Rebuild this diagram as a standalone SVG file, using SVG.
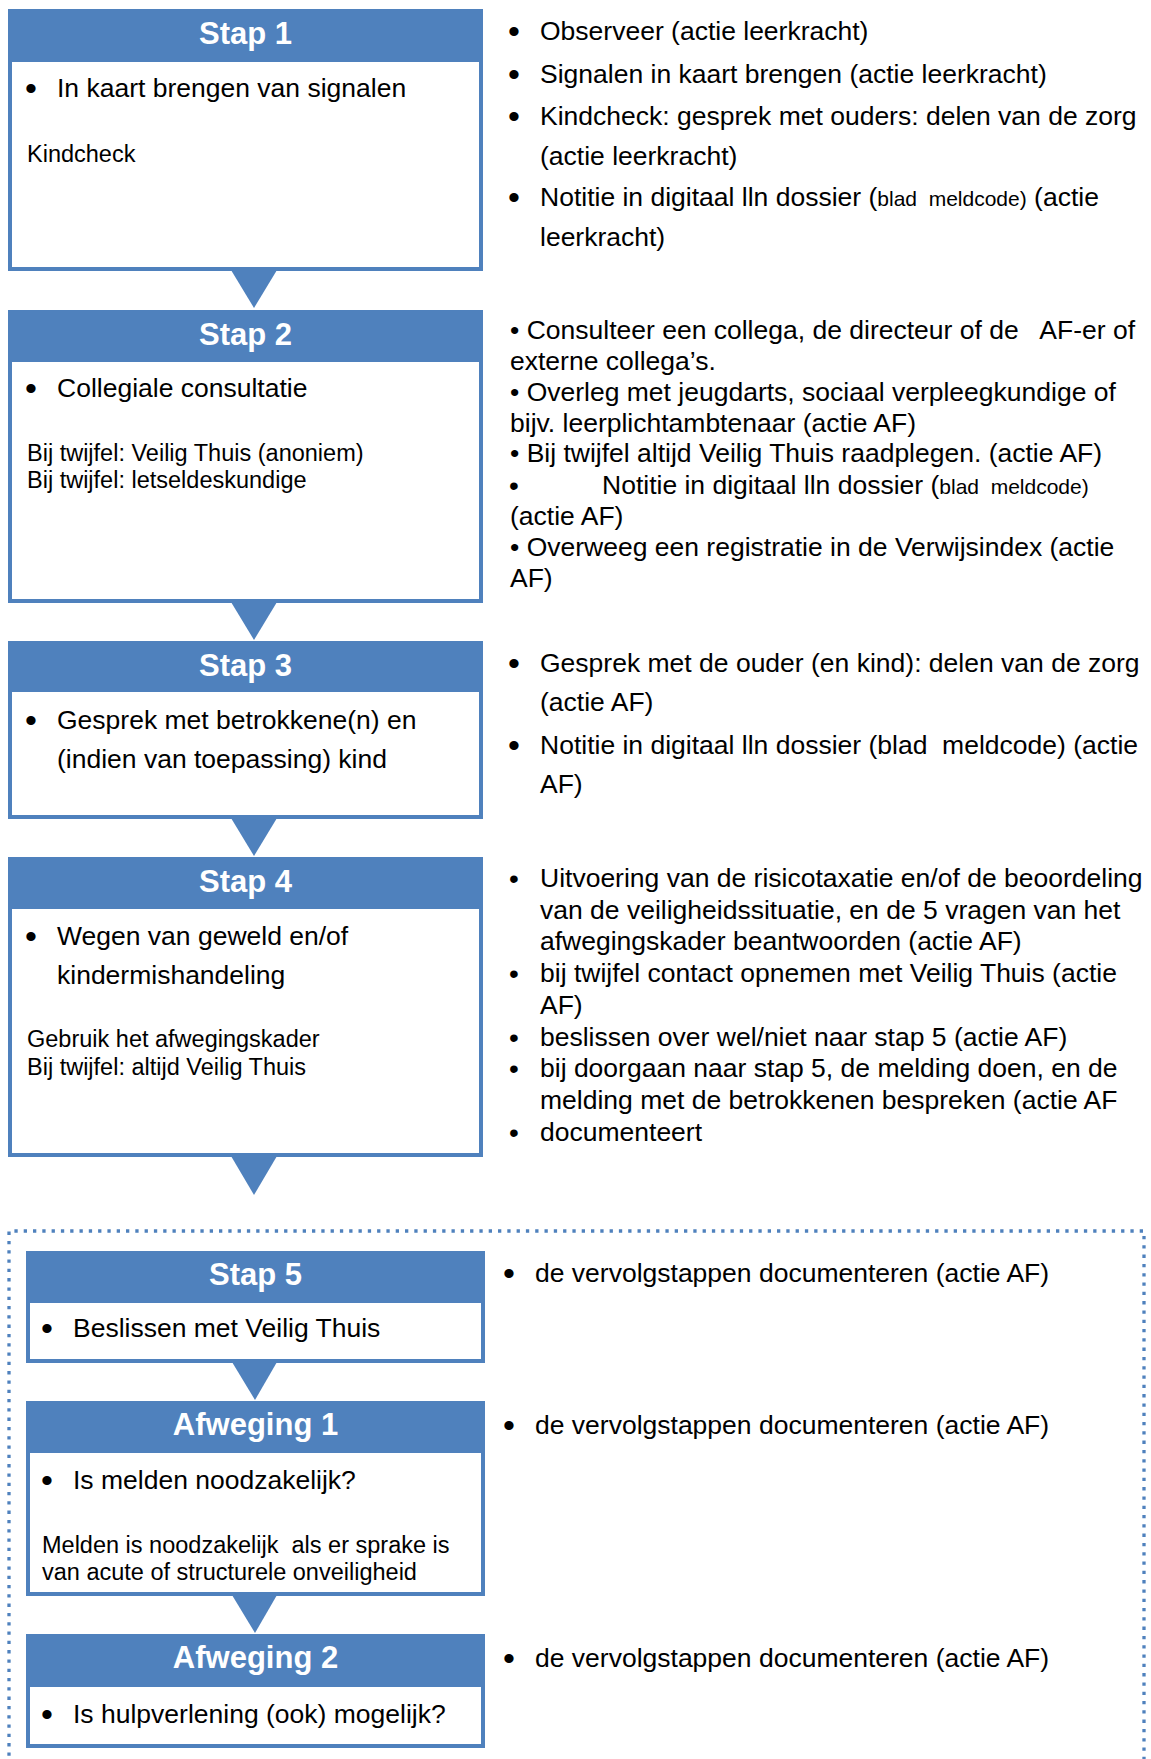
<svg xmlns="http://www.w3.org/2000/svg" width="1151" height="1759" viewBox="0 0 1151 1759">
<style>
.box{fill:#fff;stroke:#4F81BD;stroke-width:4}
.hdr{fill:#4F81BD}
.arr{fill:#4F81BD}
.ht{font-family:'Liberation Sans',Arial,sans-serif;font-weight:bold;font-size:31px;fill:#fff;text-anchor:middle}
.t{font-family:'Liberation Sans',Arial,sans-serif;font-size:26.5px;fill:#000}
.s{font-family:'Liberation Sans',Arial,sans-serif;font-size:23.5px;fill:#000}
.sm{font-size:21px}
.bl{font-family:'Liberation Sans',Arial,sans-serif;font-size:34px;fill:#000}
.bl2{font-family:'Liberation Sans',Arial,sans-serif;font-size:28px;fill:#000}
.dot{fill:none;stroke:#4F81BD;stroke-width:3.3;stroke-dasharray:3.3 6}
</style>
<rect width="1151" height="1759" fill="#fff"/>

<g id="container">
<path class="dot" d="M9,1765 V1231 H1144 V1765"/>
</g>

<g id="connectors">
<polygon class="arr" points="231,270 277,270 254,308"/>
<polygon class="arr" points="231,602 277,602 254,640"/>
<polygon class="arr" points="231,818 277,818 254,856"/>
<polygon class="arr" points="231,1156 277,1156 254,1195"/>
<polygon class="arr" points="232,1362 277,1362 255,1400"/>
<polygon class="arr" points="232,1595 277,1595 255,1633"/>
</g>

<g id="stap1">
<rect class="box" x="10" y="11" width="471" height="258"/>
<rect class="hdr" x="8" y="9" width="475" height="53"/>
<text class="ht" x="245.5" y="44">Stap 1</text>
<text class="bl" x="25" y="100">•</text>
<text class="t" x="57" y="97">In kaart brengen van signalen</text>
<text class="s" x="27" y="162">Kindcheck</text>
</g>

<g id="stap2">
<rect class="box" x="10" y="312" width="471" height="289"/>
<rect class="hdr" x="8" y="310" width="475" height="52"/>
<text class="ht" x="245.5" y="345">Stap 2</text>
<text class="bl" x="25" y="400">•</text>
<text class="t" x="57" y="397">Collegiale consultatie</text>
<text class="s" x="27" y="461">Bij twijfel: Veilig Thuis (anoniem)</text>
<text class="s" x="27" y="488">Bij twijfel: letseldeskundige</text>
</g>

<g id="stap3">
<rect class="box" x="10" y="643" width="471" height="174"/>
<rect class="hdr" x="8" y="641" width="475" height="51"/>
<text class="ht" x="245.5" y="676">Stap 3</text>
<text class="bl" x="25" y="732">•</text>
<text class="t" x="57" y="729">Gesprek met betrokkene(n) en</text>
<text class="t" x="57" y="768">(indien van toepassing) kind</text>
</g>

<g id="stap4">
<rect class="box" x="10" y="859" width="471" height="296"/>
<rect class="hdr" x="8" y="857" width="475" height="52"/>
<text class="ht" x="245.5" y="892">Stap 4</text>
<text class="bl" x="25" y="948">•</text>
<text class="t" x="57" y="945">Wegen van geweld en/of</text>
<text class="t" x="57" y="984">kindermishandeling</text>
<text class="s" x="27" y="1047">Gebruik het afwegingskader</text>
<text class="s" x="27" y="1075">Bij twijfel: altijd Veilig Thuis</text>
</g>

<g id="stap5">
<rect class="box" x="28" y="1253" width="455" height="108"/>
<rect class="hdr" x="26" y="1251" width="459" height="52"/>
<text class="ht" x="255.5" y="1285">Stap 5</text>
<text class="bl" x="41" y="1340">•</text>
<text class="t" x="73" y="1337">Beslissen met Veilig Thuis</text>
</g>

<g id="afweging1">
<rect class="box" x="28" y="1403" width="455" height="191"/>
<rect class="hdr" x="26" y="1401" width="459" height="52"/>
<text class="ht" x="255.5" y="1435">Afweging 1</text>
<text class="bl" x="41" y="1492">•</text>
<text class="t" x="73" y="1489">Is melden noodzakelijk?</text>
<text class="s" x="42" y="1553" xml:space="preserve">Melden is noodzakelijk  als er sprake is</text>
<text class="s" x="42" y="1580">van acute of structurele onveiligheid</text>
</g>

<g id="afweging2">
<rect class="box" x="28" y="1636" width="455" height="110"/>
<rect class="hdr" x="26" y="1634" width="459" height="53"/>
<text class="ht" x="255.5" y="1668">Afweging 2</text>
<text class="bl" x="41" y="1726">•</text>
<text class="t" x="73" y="1723">Is hulpverlening (ook) mogelijk?</text>
</g>

<g id="notes1">
<text class="bl" x="508" y="43">•</text>
<text class="t" x="540" y="40">Observeer (actie leerkracht)</text>
<text class="bl" x="508" y="86">•</text>
<text class="t" x="540" y="83">Signalen in kaart brengen (actie leerkracht)</text>
<text class="bl" x="508" y="128">•</text>
<text class="t" x="540" y="125">Kindcheck: gesprek met ouders: delen van de zorg</text>
<text class="t" x="540" y="165">(actie leerkracht)</text>
<text class="bl" x="508" y="209">•</text>
<text class="t" x="540" y="206" xml:space="preserve">Notitie in digitaal lln dossier (<tspan class="sm">blad  meldcode)</tspan> (actie</text>
<text class="t" x="540" y="246">leerkracht)</text>
</g>

<g id="notes2">
<text class="t" x="510" y="339" xml:space="preserve">• Consulteer een collega, de directeur of de   AF-er of</text>
<text class="t" x="510" y="370">externe collega’s.</text>
<text class="t" x="510" y="401">• Overleg met jeugdarts, sociaal verpleegkundige of</text>
<text class="t" x="510" y="432">bijv. leerplichtambtenaar (actie AF)</text>
<text class="t" x="510" y="462">• Bij twijfel altijd Veilig Thuis raadplegen. (actie AF)</text>
<text class="bl2" x="509" y="495">•</text>
<text class="t" x="602" y="494" xml:space="preserve">Notitie in digitaal lln dossier (<tspan class="sm">blad  meldcode)</tspan></text>
<text class="t" x="510" y="525">(actie AF)</text>
<text class="t" x="510" y="556">• Overweeg een registratie in de Verwijsindex (actie</text>
<text class="t" x="510" y="587">AF)</text>
</g>

<g id="notes3">
<text class="bl" x="508" y="675">•</text>
<text class="t" x="540" y="672">Gesprek met de ouder (en kind): delen van de zorg</text>
<text class="t" x="540" y="711">(actie AF)</text>
<text class="bl" x="508" y="757">•</text>
<text class="t" x="540" y="754" xml:space="preserve">Notitie in digitaal lln dossier (blad  meldcode) (actie</text>
<text class="t" x="540" y="793">AF)</text>
</g>

<g id="notes4">
<text class="bl2" x="509" y="888">•</text>
<text class="t" x="540" y="887">Uitvoering van de risicotaxatie en/of de beoordeling</text>
<text class="t" x="540" y="919">van de veiligheidssituatie, en de 5 vragen van het</text>
<text class="t" x="540" y="950">afwegingskader beantwoorden (actie AF)</text>
<text class="bl2" x="509" y="983">•</text>
<text class="t" x="540" y="982">bij twijfel contact opnemen met Veilig Thuis (actie</text>
<text class="t" x="540" y="1014">AF)</text>
<text class="bl2" x="509" y="1047">•</text>
<text class="t" x="540" y="1046">beslissen over wel/niet naar stap 5 (actie AF)</text>
<text class="bl2" x="509" y="1078">•</text>
<text class="t" x="540" y="1077">bij doorgaan naar stap 5, de melding doen, en de</text>
<text class="t" x="540" y="1109">melding met de betrokkenen bespreken (actie AF</text>
<text class="bl2" x="509" y="1142">•</text>
<text class="t" x="540" y="1141">documenteert</text>
</g>

<g id="notes5">
<text class="bl" x="503" y="1285">•</text>
<text class="t" x="535" y="1282">de vervolgstappen documenteren (actie AF)</text>
<text class="bl" x="503" y="1437">•</text>
<text class="t" x="535" y="1434">de vervolgstappen documenteren (actie AF)</text>
<text class="bl" x="503" y="1670">•</text>
<text class="t" x="535" y="1667">de vervolgstappen documenteren (actie AF)</text>
</g>
</svg>
